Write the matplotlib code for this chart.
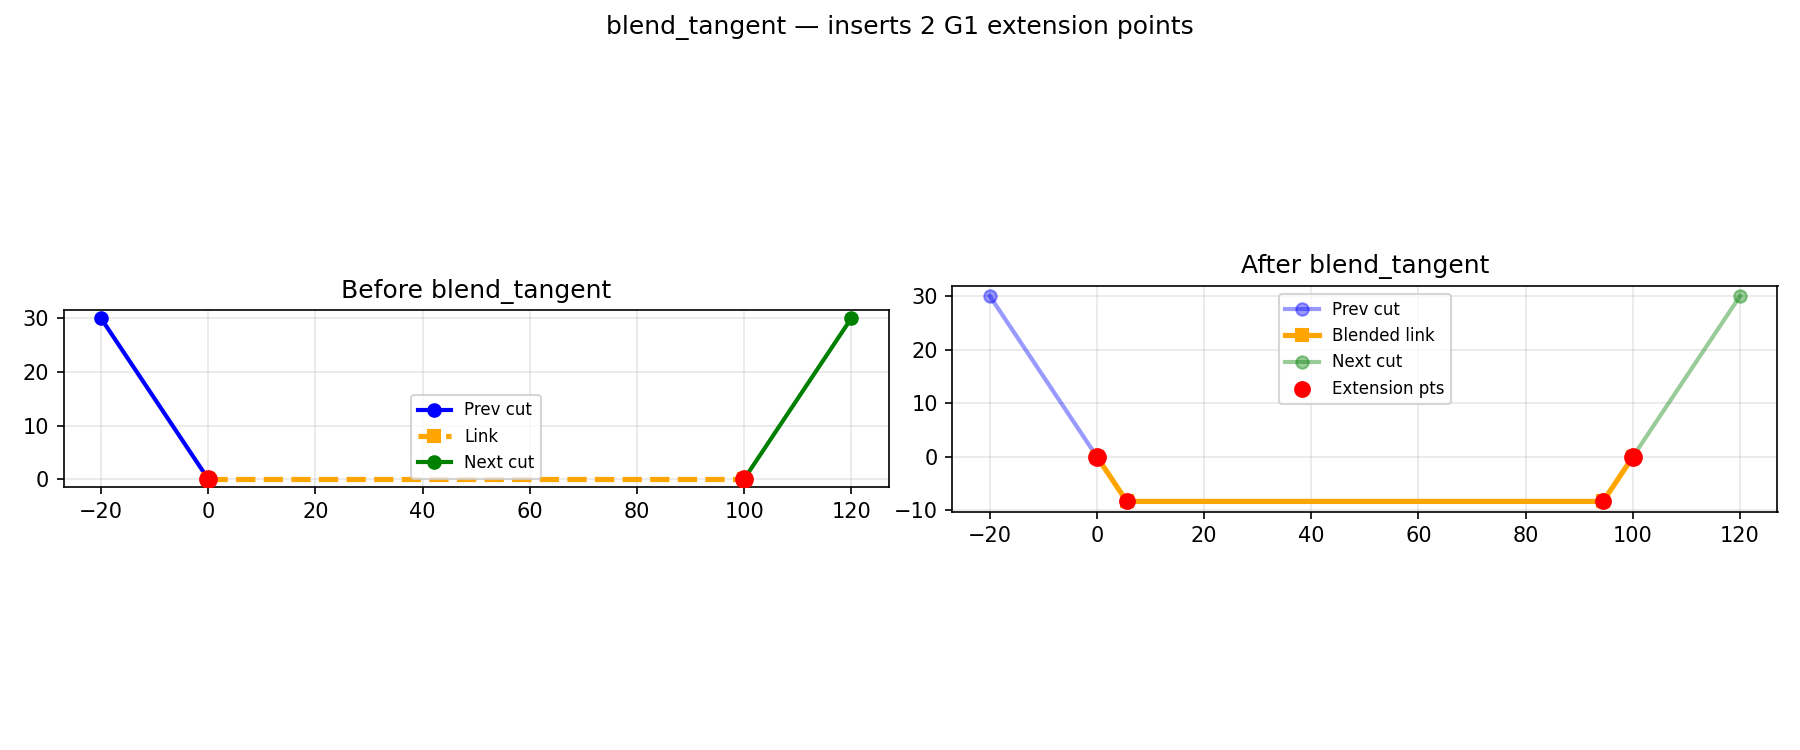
import matplotlib
matplotlib.use("Agg")
import matplotlib.pyplot as plt

# Tramos de corte y enlace (antes / despues)
prev_x = [-20, 0]
prev_y = [30, 0]
next_x = [100, 120]
next_y = [0, 30]
link_x = [0, 100]
link_y = [0, 0]
blend_x = [0, 5.55, 94.45, 100]
blend_y = [0, -8.32, -8.32, 0]
ext_x = [5.55, 94.45]
ext_y = [-8.32, -8.32]
end_x = [0, 100]
end_y = [0, 0]

fig, (ax1, ax2) = plt.subplots(1, 2, figsize=(12, 5), dpi=150)
fig.suptitle("blend_tangent \u2014 inserts 2 G1 extension points")

# Antes
ax1.plot(prev_x, prev_y, "o-", color="blue", lw=2, label="Prev cut")
ax1.plot(link_x, link_y, "s--", color="orange", lw=2.5, label="Link")
ax1.plot(next_x, next_y, "o-", color="green", lw=2, label="Next cut")
ax1.plot(end_x, end_y, "ro", ms=8, zorder=5)
ax1.set_title("Before blend_tangent")
ax1.set_aspect("equal")
ax1.grid(True, alpha=0.3)
ax1.legend(fontsize=8)

# Despues
ax2.plot(prev_x, prev_y, "o-", color="blue", lw=2, alpha=0.4, label="Prev cut")
ax2.plot(blend_x, blend_y, "s-", color="orange", lw=2.5, label="Blended link")
ax2.plot(next_x, next_y, "o-", color="green", lw=2, alpha=0.4, label="Next cut")
ax2.scatter(ext_x, ext_y, color="red", s=50, zorder=5, label="Extension pts")
ax2.plot(end_x, end_y, "ro", ms=8, zorder=5)
ax2.set_title("After blend_tangent")
ax2.set_aspect("equal")
ax2.grid(True, alpha=0.3)
ax2.legend(fontsize=8)

plt.tight_layout()
plt.savefig("out.png")
